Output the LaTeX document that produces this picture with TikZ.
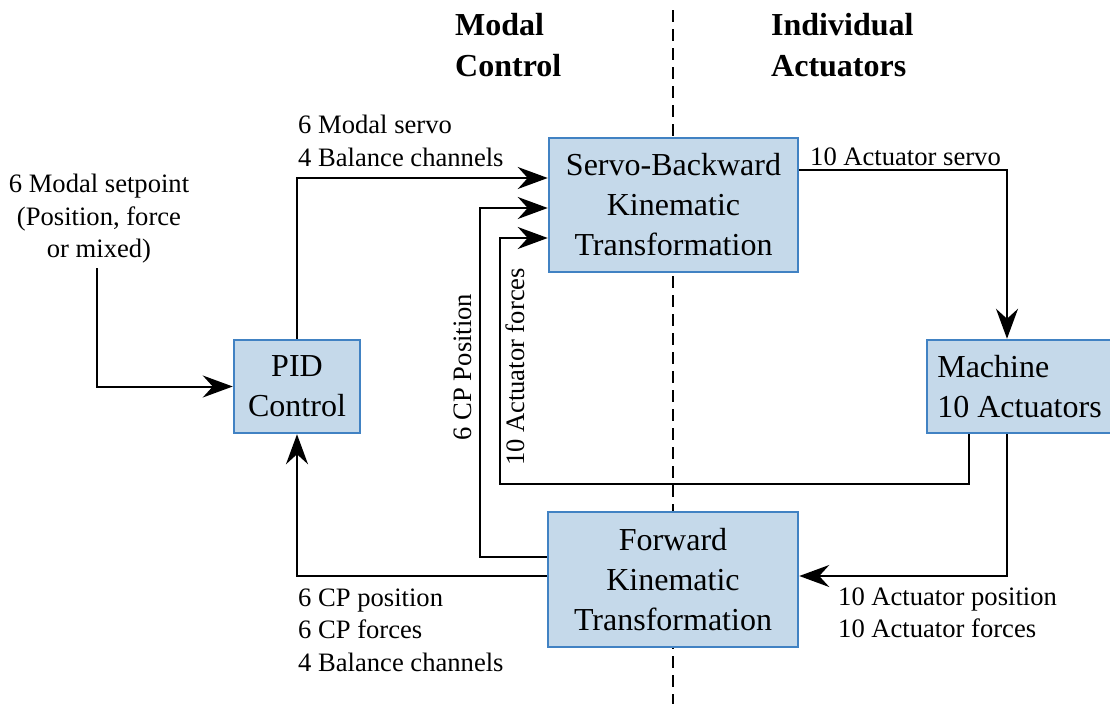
\documentclass[tikz,border=0pt]{standalone}
\usepackage{fontspec}
\setmainfont{Liberation Serif}
\usetikzlibrary{arrows.meta,calc}
\definecolor{boxfill}{RGB}{197,217,234}
\definecolor{boxline}{RGB}{65,130,195}
\begin{document}
\begin{tikzpicture}[x=1pt,y=-1pt,
  blk/.style={draw=boxline,fill=boxfill,line width=2.5pt,align=center,inner sep=0pt,
    font=\fontsize{32}{40}\selectfont},
  lbl/.style={inner sep=0pt,font=\fontsize{26.6}{32.5}\selectfont,align=left},
  hdr/.style={inner sep=0pt,font=\fontsize{32}{41}\selectfont\bfseries,align=left,anchor=west},
  wire/.style={line width=2pt},
  arr/.style={wire,-{Stealth[length=30pt,width=22pt,inset=10pt]}}]
\useasboundingbox (0,0) rectangle (1110,704);
% divider
\draw[line width=1.6pt,dash pattern=on 12pt off 7pt] (673,10) -- (673,704);
% headings
\node[hdr] (hm) at (455,45) {Modal\\Control};
\node[hdr] (ha) at (771,45) {Individual\\Actuators};
% blocks
\node[blk,minimum width=249pt,minimum height=134pt] (servo) at (673.5,205) {Servo-Backward\\Kinematic\\Transformation};
\node[blk,minimum width=250pt,minimum height=135pt] (fwd) at (673,579.5) {Forward\\Kinematic\\Transformation};
\node[blk,minimum width=126pt,minimum height=93pt] (pid) at (297,386.5) {PID\\Control};
\node[blk,minimum width=185pt,minimum height=93pt,align=left] (mach) at (1019.5,386.5) {Machine\\10 Actuators};
% labels
\node[lbl,align=center] (sp) at (99,219) {6 Modal setpoint\\(Position, force\\or mixed)};
\coordinate (spo) at (97,268);
\node[lbl,anchor=west] (l1) at (298,141) {6 Modal servo\\4 Balance channels};
\node[lbl,anchor=west] (l2) at (810,157) {10 Actuator servo};
\node[lbl,anchor=west] (l3) at (838,613) {10 Actuator position\\10 Actuator forces};
\node[lbl,anchor=west] (l4) at (298,630) {6 CP position\\6 CP forces\\4 Balance channels};
\node[lbl,rotate=90] (l5) at (463,367) {6 CP Position};
\node[lbl,rotate=90] (l6) at (515,367) {10 Actuator forces};
% connectors
\draw[arr] (spo) |- (pid.west);
\draw[arr] (pid.north) |- ([yshift=27pt]servo.west);
\draw[arr] ([yshift=35pt]servo.east) -| ([xshift=-12.5pt]mach.north);
\draw[arr] ([xshift=-12.5pt]mach.south) |- ([yshift=3.5pt]fwd.east);
\draw[arr] ([xshift=-50.5pt]mach.south) |- (500,484) |- ([yshift=-33pt]servo.west);
\draw[arr] ([yshift=22.5pt]fwd.west) -| (480,400) |- ([yshift=-3pt]servo.west);
\draw[arr] ([yshift=3.5pt]fwd.west) -| (pid.south);
\end{tikzpicture}
\end{document}
